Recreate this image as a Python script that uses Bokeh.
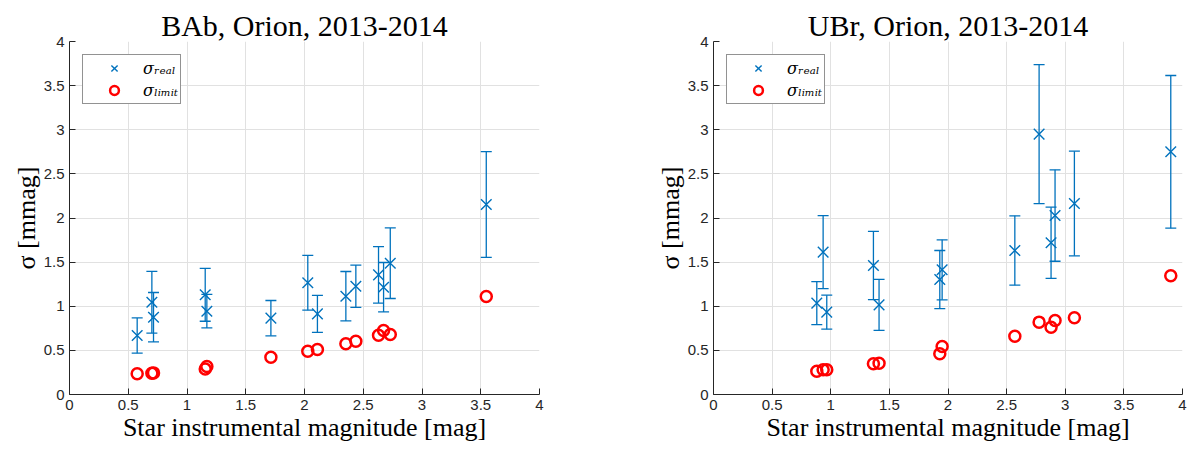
from bokeh.plotting import figure
from bokeh.layouts import row
from bokeh.models import ColumnDataSource, Whisker, TeeHead, Legend, LegendItem, FixedTicker
from bokeh.embed import file_html
from bokeh.resources import INLINE

# ---- data ----
tick_values = [0, 0.5, 1, 1.5, 2, 2.5, 3, 3.5, 4]
tick_labels = ["0", "0.5", "1", "1.5", "2", "2.5", "3", "3.5", "4"]

titles = ["BAb, Orion, 2013-2014", "UBr, Orion, 2013-2014"]
x_label = "Star instrumental magnitude [mag]"
y_label = "σ [mmag]"
legend_labels = ["σᵣₑₐₗ", "σₗᵢₘᵢₜ"]

mag_bab = [0.576, 0.701, 0.715, 1.155, 1.169, 1.714, 2.028, 2.110, 2.352, 2.437, 2.630, 2.673, 2.730, 3.547]
real_bab = [0.668, 1.046, 0.876, 1.130, 0.944, 0.865, 1.266, 0.914, 1.114, 1.227, 1.356, 1.216, 1.488, 2.153]
err_bab = [0.20, 0.35, 0.28, 0.30, 0.19, 0.20, 0.31, 0.21, 0.28, 0.24, 0.32, 0.28, 0.40, 0.60]
limit_bab = [0.234, 0.241, 0.245, 0.290, 0.317, 0.423, 0.491, 0.510, 0.574, 0.604, 0.672, 0.725, 0.680, 1.110]

mag_ubr = [0.881, 0.935, 0.966, 1.364, 1.412, 1.930, 1.950, 2.570, 2.777, 2.879, 2.913, 3.078, 3.900]
real_ubr = [1.035, 1.613, 0.933, 1.462, 1.016, 1.303, 1.413, 1.632, 2.950, 1.719, 2.028, 2.164, 2.750]
err_ubr = [0.244, 0.414, 0.193, 0.387, 0.289, 0.329, 0.340, 0.393, 0.788, 0.404, 0.518, 0.593, 0.865]
limit_ubr = [0.264, 0.280, 0.280, 0.348, 0.355, 0.461, 0.544, 0.661, 0.820, 0.763, 0.838, 0.869, 1.345]

BLUE = "#0072BD"
RED = "#FF0000"
DARK = "#262626"
GRID = "#e1e1e1"


def make_panel(title, mag, real, err, limit, width, b_left, b_right):
    p = figure(width=width, height=450, x_range=(0, 4), y_range=(0, 4),
               output_backend="svg", toolbar_location=None,
               min_border_left=b_left, min_border_right=b_right,
               min_border_top=41, min_border_bottom=56)
    p.title.text = title
    p.title.align = "center"
    p.title.text_font = "Liberation Serif"
    p.title.text_font_size = "30px"
    p.title.text_font_style = "normal"
    p.title.text_color = "#000000"
    p.title.standoff = 0
    p.outline_line_color = None

    upper = [r + e for r, e in zip(real, err)]
    lower = [r - e for r, e in zip(real, err)]
    src = ColumnDataSource(dict(x=mag, y=real, upper=upper, lower=lower, lim=limit))

    wh = Whisker(source=src, base="x", upper="upper", lower="lower", dimension="height",
                 line_color=BLUE, line_width=1.3,
                 upper_head=TeeHead(size=11, line_color=BLUE, line_width=1.3),
                 lower_head=TeeHead(size=11, line_color=BLUE, line_width=1.3))
    p.add_layout(wh)
    r1 = p.scatter("x", "y", source=src, marker="x", size=15, line_color=BLUE, line_width=1.4)
    r2 = p.scatter("x", "lim", source=src, marker="circle", size=11, fill_color=None,
                   line_color=RED, line_width=2.5)

    for ax in (p.xaxis[0], p.yaxis[0]):
        ax.ticker = FixedTicker(ticks=tick_values)
        ax.major_label_overrides = {v: l for v, l in zip(tick_values, tick_labels)}
        ax.major_label_text_font = "Liberation Sans"
        ax.major_label_text_font_size = "15px"
        ax.major_label_text_color = DARK
        ax.major_tick_in = 6
        ax.major_tick_out = 0
        ax.minor_tick_in = 0
        ax.minor_tick_out = 0
        ax.axis_line_color = DARK
        ax.major_tick_line_color = DARK
        ax.axis_label_text_font = "Liberation Serif"
        ax.axis_label_text_font_size = "26px"
        ax.axis_label_text_font_style = "normal"
        ax.axis_label_text_color = "#000000"
        ax.major_label_standoff = 5
        ax.axis_label_standoff = 0
    p.xaxis.axis_label = x_label
    p.yaxis.axis_label = y_label
    p.grid.grid_line_color = GRID
    p.grid.grid_line_width = 1

    legend = Legend(items=[LegendItem(label=legend_labels[0], renderers=[r1]),
                           LegendItem(label=legend_labels[1], renderers=[r2])],
                    location="top_left", margin=13, padding=2, spacing=0,
                    glyph_width=58, glyph_height=22, label_standoff=0,
                    label_text_font="DejaVu Serif", label_text_font_style="italic",
                    label_text_font_size="16px", label_text_color="#000000",
                    border_line_color=DARK, border_line_width=1,
                    background_fill_alpha=1.0)
    p.add_layout(legend)
    return p


p1 = make_panel(titles[0], mag_bab, real_bab, err_bab, limit_bab, 602, 69, 63)
p2 = make_panel(titles[1], mag_ubr, real_ubr, err_ubr, limit_ubr, 587, 111, 7)

layout = row(p1, p2)
open("out.html", "w").write(file_html(layout, INLINE))
